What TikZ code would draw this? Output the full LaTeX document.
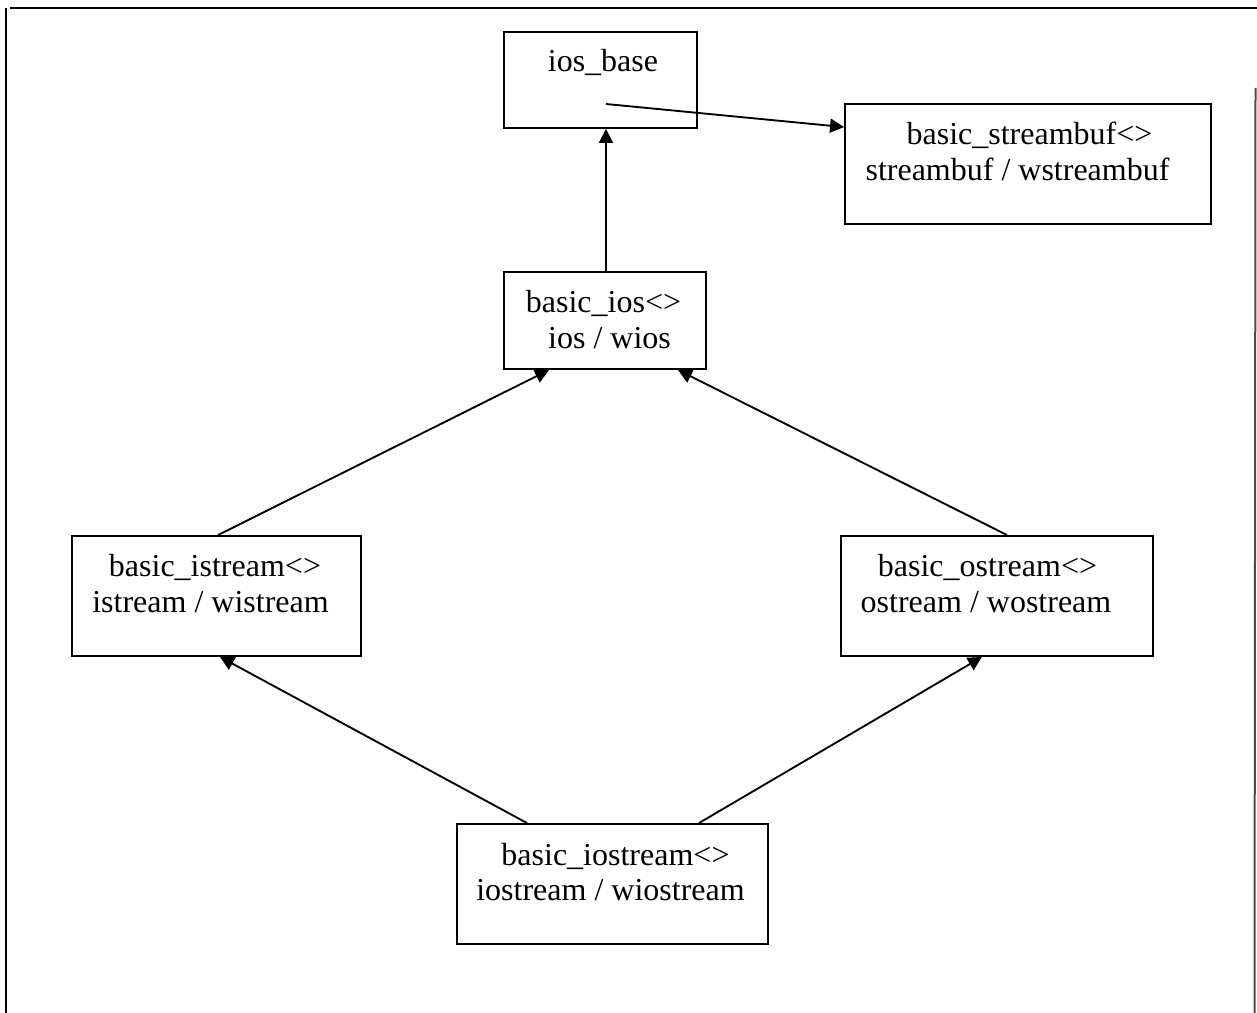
\documentclass[tikz,border=0pt]{standalone}
\usepackage{fontspec}
\setmainfont{Liberation Serif}
\usetikzlibrary{arrows.meta,calc}
\tikzset{
  box/.style={draw, line width=1.4pt, rectangle, inner sep=0pt},
  lbl/.style={anchor=base, inner sep=0pt, font=\fontsize{24}{27}\selectfont},
  arr/.style={line width=1.4pt, -{Triangle[length=10.5pt,width=10.5pt]}},
  frame/.style={line width=1.5pt}
}
\begin{document}
\begin{tikzpicture}[x=0.75pt,y=-0.75pt]
\useasboundingbox (0,0) rectangle (1257,1013);
% outer frame
\draw[frame] (10,8) -- (1257,8);
\draw[frame] (5.5,8) -- (5.5,1013);
\draw[frame, black!70] (1255.5,88) -- (1254.5,1013);
% boxes
\node[box, minimum width=193*0.75pt, minimum height=96*0.75pt] (iosb) at (600.5,80) {};
\node[box, minimum width=366*0.75pt, minimum height=120*0.75pt] (sb) at (1028,164) {};
\node[box, minimum width=202*0.75pt, minimum height=97*0.75pt] (ios) at (605,320.5) {};
\node[box, minimum width=289*0.75pt, minimum height=120*0.75pt] (ist) at (216.5,596) {};
\node[box, minimum width=312*0.75pt, minimum height=120*0.75pt] (ost) at (997,596) {};
\node[box, minimum width=311*0.75pt, minimum height=120*0.75pt] (iost) at (612.5,884) {};
% labels
\node[lbl] (t1) at (603,72) {ios\_base};
\node[lbl] (t2a) at (1029.5,145) {basic\_streambuf<>};
\node[lbl] (t2b) at (1017.5,181) {streambuf / wstreambuf};
\node[lbl] (t3a) at (603.5,312) {basic\_ios<>};
\node[lbl] (t3b) at (609.5,348) {ios / wios};
\node[lbl] (t4a) at (215,576) {basic\_istream<>};
\node[lbl] (t4b) at (210.5,612) {istream / wistream};
\node[lbl] (t5a) at (987.5,576) {basic\_ostream<>};
\node[lbl] (t5b) at (986,612) {ostream / wostream};
\node[lbl] (t6a) at (615.5,865) {basic\_iostream<>};
\node[lbl] (t6b) at (610.5,900) {iostream / wiostream};
% connectors
\draw[arr] ($(iosb.center)+(5.5,24)$) -- ($(sb.north west)+(0,24)$);
\draw[arr] ($(ios.north)+(1,0)$) -- ($(iosb.south)+(5.5,0)$);
\draw[arr] ($(ist.north)+(1.5,0)$) -- ($(ios.south west)+(46,0)$);
\draw[arr] ($(ost.north)+(10,0)$) -- ($(ios.south east)+(-29,0)$);
\draw[arr] ($(iost.north west)+(71,0)$) -- ($(ist.south)+(3.5,0)$);
\draw[arr] ($(iost.north east)+(-70,0)$) -- ($(ost.south)+(-15,0)$);
\end{tikzpicture}
\end{document}
